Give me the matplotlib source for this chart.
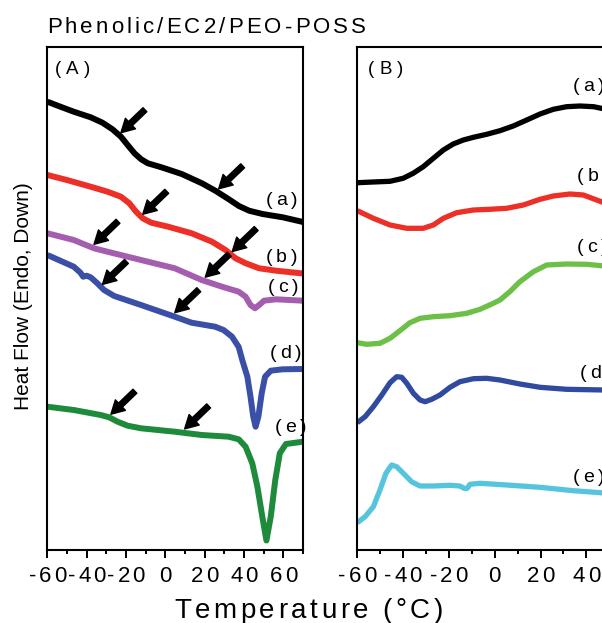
"""
DSC traces of Phenolic/EC2/PEO-POSS blends, two panels side by side.
"""

import numpy as np
import matplotlib
matplotlib.use('Agg')
import matplotlib.pyplot as plt
from matplotlib.font_manager import FontProperties, findfont, get_font
from matplotlib.transforms import offset_copy

FAMILY = 'Liberation Sans'
plt.rcParams['font.family'] = [FAMILY, 'DejaVu Sans']

# ---- panel (A): temperature [C] and heat flow [a.u.]
a_T = [-60, -53.4, -46.6, -38.0, -32.0, -26.9, -22.6, -19.2, -15.7, -12.3, -8.9, -2.0, 8.3,
       18.6, 25.4, 32.3, 37.4, 42.6, 49.4, 59.7, 70]
a_hf = [44.83, 44.33, 43.83, 43.27, 42.73, 42.07, 41.33, 40.5, 39.67, 39.07, 38.67, 38.27, 37.6,
        36.67, 35.93, 35.07, 34.4, 33.93, 33.6, 33.27, 32.8]

b_T = [-60, -50.1, -38.0, -29.4, -22.6, -18.3, -14.9, -11.5, -7.2, 1.4, 13.4, 23.7, 30.6,
       35.7, 40.9, 47.7, 56.3, 70]
b_hf = [37.5, 37.0, 36.33, 35.83, 35.33, 34.67, 33.83, 33.17, 32.73, 32.33, 31.67, 30.83, 30.0,
        29.17, 28.67, 28.17, 27.93, 27.65]

c_T = [-60, -46.6, -36.3, -29.5, -12.4, 4.8, 18.5, 28.8, 37.3, 40.8, 43.3, 45.6, 47.7, 50.2, 56.2, 70]
c_hf = [31.67, 31.0, 30.17, 29.83, 29.0, 28.17, 27.0, 26.33, 25.83, 25.33, 24.5, 24.17, 24.5,
        24.93, 25.07, 24.93]

d_T = [-60, -46.6, -43.2, -41.8, -40.1, -38.0, -34.6, -31.2, -26.0, -12.4, 4.8, 13.3, 25.3,
       29.6, 33.9, 37.3, 39.1, 41.7, 43.3, 44.7, 45.9, 47.3, 49.0, 50.7, 53.6, 59.6, 70]
d_hf = [29.5, 28.33, 27.73, 27.33, 27.43, 27.27, 26.67, 26.0, 25.4, 24.5, 23.33, 22.73, 22.33,
        22.0, 21.33, 20.3, 19.0, 17.33, 15.33, 13.33, 12.33, 13.33, 15.67, 17.33, 17.93, 18.07, 18.1]

e_T = [-60, -46.6, -32.9, -28.6, -24.3, -19.2, -12.4, 4.8, 18.5, 32.2, 37.3, 40.8, 44.2,
       46.8, 49.3, 51.4, 53.6, 55.9, 58.2, 61.3, 70]
e_hf = [14.33, 14.0, 13.5, 13.27, 12.83, 12.43, 12.17, 11.83, 11.5, 11.33, 11.07, 10.33, 8.67,
        6.33, 3.33, 0.95, 3.33, 7.0, 9.67, 10.6, 10.83]

# Tg positions marked with arrows in panel (A)
tg_a = [-22.6, 27.1]
tg_b = [-11.5, 34.0]
tg_c = [-36.3, 20.3]
tg_d = [-32.0, 4.8]
tg_e = [-27.7, 9.8]

# ---- panel (B)
Ba_T = [-60, -53.0, -45.7, -40.0, -35.6, -31.2, -26.8, -22.4, -18.1, -13.7, -9.3, -3.5, 2.3,
        8.1, 14.0, 19.8, 25.6, 31.4, 37.2, 43.2, 48]
Ba_hf = [36.73, 36.8, 36.87, 37.17, 37.67, 38.33, 39.17, 40.0, 40.6, 41.0, 41.27, 41.57, 41.93,
         42.4, 43.0, 43.6, 44.07, 44.33, 44.4, 44.33, 44.1]

Bb_T = [-60, -53.0, -45.7, -38.4, -31.2, -26.8, -22.4, -16.6, -9.3, -2.1, 5.2, 12.5, 19.8,
        25.6, 32.9, 38.7, 48]
Bb_hf = [33.93, 33.17, 32.5, 32.17, 32.17, 32.5, 33.17, 33.73, 34.0, 34.07, 34.17, 34.5, 35.07,
         35.4, 35.6, 35.5, 34.7]

Bc_T = [-60, -55.9, -50.1, -45.7, -41.4, -37.0, -32.6, -26.8, -19.5, -12.2, -6.4, -0.6, 2.3,
        6.6, 11.0, 16.9, 22.7, 31.4, 40.2, 48]
Bc_hf = [20.73, 20.57, 20.67, 21.17, 21.93, 22.73, 23.17, 23.33, 23.43, 23.67, 24.07, 24.67, 25.0,
         25.83, 26.83, 27.83, 28.5, 28.6, 28.57, 28.4]

Bd_T = [-60, -56.6, -53.0, -49.3, -45.7, -42.8, -40.6, -38.4, -35.5, -32.6, -30.4, -27.5, -23.9,
        -19.5, -15.2, -9.3, -3.5, 2.3, 11.0, 19.8, 31.4, 48]
Bd_hf = [12.73, 13.33, 14.33, 15.5, 16.73, 17.33, 17.27, 16.67, 15.67, 15.0, 14.83, 15.07, 15.5,
         16.27, 16.83, 17.13, 17.17, 17.0, 16.6, 16.27, 16.07, 16.0]

Be_T = [-60, -56.6, -53.0, -50.1, -47.5, -45.0, -42.8, -39.9, -36.3, -32.6, -26.8, -19.5, -15.2,
        -13.4, -12.0, -10.8, -6.4, 5.2, 19.8, 34.3, 48]
Be_hf = [2.73, 3.33, 4.33, 6.0, 7.67, 8.5, 8.33, 7.67, 6.83, 6.4, 6.4, 6.47, 6.4,
         6.17, 6.17, 6.57, 6.67, 6.5, 6.27, 5.93, 5.7]

curve_labels = ['(a)', '(b)', '(c)', '(d)', '(e)']
major_ticks = [-60, -40, -20, 0, 20, 40, 60]


def tracked(fig, x, y, s, size, track, transform, ha='left', dy=0, **kw):
    """Draw text char by char with extra letter spacing (track, pixels)."""
    font = get_font(findfont(FontProperties(family=FAMILY)))
    font.set_size(size, fig.dpi)
    adv = []
    for ch in s:
        g = font.load_char(ord(ch))
        adv.append(g.linearHoriAdvance / 65536)
    total = sum(adv) + track * (len(s) - 1)
    pos = {'left': 0, 'center': -total / 2, 'right': -total}[ha]
    for ch, w in zip(s, adv):
        if not ch.isspace():
            tr = offset_copy(transform, x=pos, y=dy, units='dots')
            fig.text(x, y, ch, transform=tr, fontsize=size, ha='left',
                     va='baseline', family=FAMILY, **kw)
        pos += w + track


W, H = 602, 623
fig = plt.figure(figsize=(W / 100, H / 100), dpi=100)

axA = fig.add_axes([47.4 / W, 1 - 550 / H, 255.6 / W, 503.5 / H])
axB = fig.add_axes([357.3 / W, 1 - 550 / H, 297.7 / W, 503.5 / H])

colsA = ['#000000', '#ec2f27', '#a55db0', '#3a4fa6', '#1e8a3b']
for T, hf, c in zip([a_T, b_T, c_T, d_T, e_T], [a_hf, b_hf, c_hf, d_hf, e_hf], colsA):
    axA.plot(T, hf, color=c, lw=4.3, solid_joinstyle='round', solid_capstyle='butt')

colsB = ['#000000', '#ec2f27', '#6cbf47', '#2f4a9f', '#56c4dd']
for T, hf, c in zip([Ba_T, Bb_T, Bc_T, Bd_T, Be_T], [Ba_hf, Bb_hf, Bc_hf, Bd_hf, Be_hf], colsB):
    axB.plot(T, hf, color=c, lw=3.8, solid_joinstyle='round', solid_capstyle='butt')

# arrows pointing at the glass transitions
for tgs, T, hf in zip([tg_a, tg_b, tg_c, tg_d, tg_e],
                      [a_T, b_T, c_T, d_T, e_T], [a_hf, b_hf, c_hf, d_hf, e_hf]):
    for tg in tgs:
        y = np.interp(tg, T, hf) + 0.4
        axA.annotate('', xy=(tg, y), xytext=(24, 23), textcoords='offset pixels',
                     arrowprops=dict(arrowstyle='simple,head_length=0.95,head_width=1.05,tail_width=0.4',
                                     fc='k', ec='k', shrinkA=0, shrinkB=0, mutation_scale=10))

for ax in (axA, axB):
    ax.set_xlim(-60, 70)
    ax.set_ylim(0, 50.35)
    ax.set_yticks([])
    ax.set_xticks(major_ticks)
    ax.set_xticks(np.arange(-50, 71, 20), minor=True)
    ax.tick_params(axis='x', which='major', direction='out', length=5.5, width=1.4,
                   labelbottom=False)
    ax.tick_params(axis='x', which='minor', direction='out', length=3, width=1.4)
    for sp in ax.spines.values():
        sp.set_linewidth(1.5)
    for t in major_ticks:
        tracked(fig, t, 0, str(t), 16, 2.8, ax.get_xaxis_transform(), ha='center', dy=-32)

# curve labels
labA_T = [50.9, 50.9, 52.0, 53.0, 55.5]
labA_hf = [34.5, 28.8, 25.8, 19.2, 11.8]
labB_T = [34.2, 35.9, 35.8, 37.2, 34.2]
labB_hf = [45.9, 36.9, 29.8, 17.2, 6.8]
for s, x, y in zip(curve_labels, labA_T, labA_hf):
    tracked(fig, x, y, s, 14, 4, axA.transData)
for s, x, y in zip(curve_labels, labB_T, labB_hf):
    tracked(fig, x, y, s, 14, 4, axB.transData)

# panel labels, title, axis titles
tracked(fig, 55 / W, 1 - 73.8 / H, '(A)', 13.5, 5, fig.transFigure)
tracked(fig, 368 / W, 1 - 73.5 / H, '(B)', 13.5, 5, fig.transFigure)
tracked(fig, 47 / W, 1 - 33.3 / H, 'Phenolic/EC2/PEO-POSS', 16, 3.1, fig.transFigure)
tracked(fig, 174 / W, 1 - 618 / H, 'Temperature (\u00b0C)', 20, 3.5, fig.transFigure)
fig.text(24 / W, 1 - 296 / H, 'Heat Flow (Endo, Down)', rotation=90, fontsize=15,
         ha='center', va='center', family=FAMILY)

fig.savefig('out.png', dpi=100)
